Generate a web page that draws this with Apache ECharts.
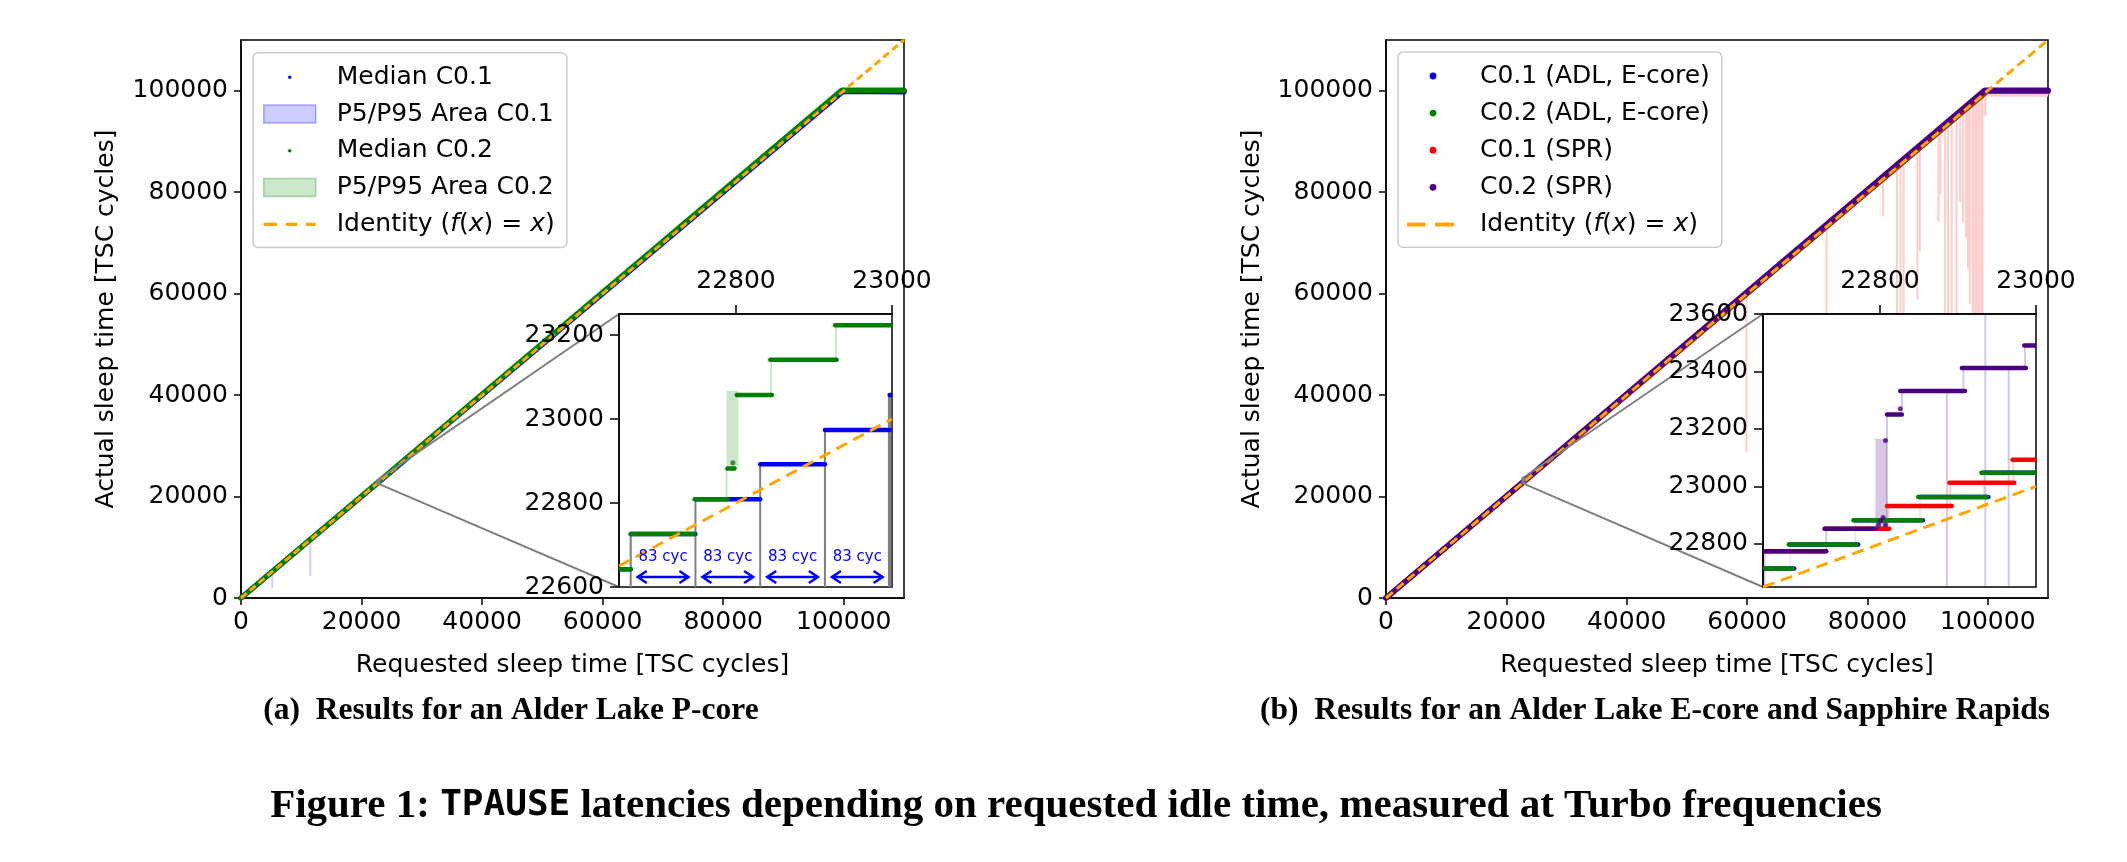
<!DOCTYPE html>
<html lang="en">
<head>
<meta charset="utf-8">
<title>Figure 1: TPAUSE latencies</title>
<script src="https://cdn.jsdelivr.net/npm/echarts@6.0.0/dist/echarts.min.js"></script>
<style>
  html, body { margin: 0; padding: 0; background: #fff; }
  #chart { width: 2127px; height: 862px; }
</style>
</head>
<body>
<div id="chart"></div>
<script>
// values, all in TSC cycles

// axis ticks
const mainTicks = [0, 20000, 40000, 60000, 80000, 100000];
const insetTicksX = [22800, 23000];
const insetATicksY = [22600, 22800, 23000, 23200];
const insetBTicksY = [22800, 23000, 23200, 23400, 23600];

// identity f(x) = x
const identityMain = [[0, 0], [110000, 110000]];
const identityInset = [[22650, 22650], [23000, 23000]];

// (a) Alder Lake P-core, full range medians
const adlPMedianC01 = [[0, 0], [99900, 99900], [110000, 99800]];
const adlPMedianC02 = [[0, 0], [99700, 100100], [110000, 100100]];
// P5/P95 outliers: [xFrom, xTo, low, high]
const adlPAreaC01 = [[5200, 5200, 2000, 4800], [11500, 11500, 4300, 10700]];

// (a) inset, median steps: [xFrom, xTo, y]
const insetAC01Steps = [
  [22650, 22665, 22642], [22665, 22748, 22726], [22748, 22831, 22809],
  [22831, 22914, 22892], [22914, 22997, 22974], [22997, 23000, 23057]
];
const insetAC02Steps = [
  [22650, 22665, 22642], [22665, 22747, 22726], [22747, 22789, 22809],
  [22789, 22798, 22882], [22801, 22846, 23057], [22844, 22929, 23141],
  [22927, 23000, 23223]
];
const insetAC02Points = [[22796, 22896]];
const insetAAreaC01 = [[22998, 22998, 22974, 23057]];
const insetAAreaC02 = [
  [22665, 22665, 22642, 22726], [22788, 22803, 22882, 23067],
  [22788, 22788, 22809, 22882], [22845, 22845, 23057, 23141],
  [22928, 22928, 23141, 23223]
];
// grey guides [x, top] every 83 cycles
const cycleGuides = [[22665, 22726], [22748, 22809], [22831, 22892], [22914, 22974], [22997, 23057]];
const cycleLabel = '83 cyc';
const cycleTextY = 22672;
const cycleArrowY = 22624;

// (b) Alder Lake E-core and Sapphire Rapids, full range medians
const adlEMedianC01 = [[0, 0], [99900, 99950], [110000, 99950]];
const adlEMedianC02 = [[0, 0], [99900, 99950], [110000, 99950]];
const sprMedianC01 = [[0, 0], [99800, 100000], [110000, 99900]];
const sprMedianC02 = [[0, 0], [99500, 100100], [110000, 100100]];
// SPR C0.1 P5/P95 dips below the median: [xFrom, xTo, low, high]
const sprAreaC01 = [
  [59900, 59900, 28600, 59800], [73200, 73200, 50000, 73100],
  [82600, 82600, 75200, 82500], [84900, 84900, 50000, 84800],
  [85500, 85500, 52000, 85400], [86000, 86000, 50000, 85900],
  [88300, 88300, 58700, 88200], [88700, 88700, 68300, 88600],
  [91800, 91800, 74200, 91700], [92100, 92100, 79500, 92000],
  [92900, 92900, 50000, 92800], [93400, 93400, 50000, 93300],
  [94000, 94000, 52000, 93900], [94800, 94800, 50000, 94700],
  [95400, 95600, 78000, 95300], [95900, 96100, 74000, 95800],
  [96400, 96600, 71000, 96300], [96700, 97000, 65000, 96600],
  [97000, 97300, 58000, 96900], [97300, 97800, 50000, 97200],
  [97800, 98300, 50000, 97700], [98300, 98800, 50000, 98200],
  [98800, 99300, 50000, 98700], [99400, 99800, 95000, 99300],
  [100000, 110000, 98800, 99900]
];

// (b) inset, median steps: [xFrom, xTo, y]
const insetBC01AdlSteps = [
  [22650, 22690, 22714], [22684, 22772, 22798], [22767, 22855, 22882],
  [22851, 22939, 22963], [22932, 23000, 23048]
];
const insetBC02AdlSteps = [
  [22650, 22688, 22714], [22683, 22770, 22798], [22766, 22853, 22882],
  [22849, 22937, 22963], [22930, 23000, 23048]
];
const insetBC01SprSteps = [
  [22650, 22731, 22774], [22729, 22812, 22853], [22809, 22892, 22932],
  [22889, 22972, 23013], [22970, 23000, 23093]
];
const insetBC02SprSteps = [
  [22650, 22731, 22774], [22729, 22795, 22853], [22809, 22828, 23250],
  [22826, 22909, 23332], [22905, 22987, 23412], [22985, 23000, 23490]
];
const insetBC02SprPoints = [[22798, 22866], [22801, 22880], [22804, 22892], [22807, 22866], [22807, 23160], [22826, 23270]];
const insetBAreaC02Adl = [
  [22685, 22685, 22714, 22798], [22768, 22768, 22798, 22882],
  [22851, 22851, 22882, 22963], [22933, 22933, 22963, 23048]
];
const insetBAreaC01Spr = [
  [22811, 22811, 22853, 22932], [22890, 22890, 22932, 23013], [22971, 22971, 23013, 23093]
];
const insetBAreaC02Spr = [
  [22794, 22809, 22853, 23166], [22652, 22652, 22650, 22774], [22731, 22731, 22774, 22853],
  [22809, 22809, 22853, 23250], [22828, 22828, 23250, 23332], [22886, 22886, 22650, 23332],
  [22907, 22907, 23332, 23412], [22935, 22935, 22650, 23600], [22965, 22965, 22650, 23412],
  [22986, 22986, 23412, 23490]
];

const FONT = 'DejaVu Sans';
const FS = 25;
const BLUE = '#0000ff', GREEN = '#008000', RED = '#ff0000', INDIGO = '#4b0082', ORANGE = '#ffa500', GREY = '#808080';
const IDENTITY = 'Identity (f(x) = x)';

const chart = echarts.init(document.getElementById('chart'));

// horizontal run of median dots
function stepItem(params, api) {
  const a = api.coord([api.value(0), api.value(2)]);
  const b = api.coord([api.value(1), api.value(2)]);
  return {
    type: 'line',
    shape: { x1: a[0], y1: a[1], x2: b[0], y2: b[1] },
    style: { stroke: api.visual('color'), lineWidth: 4.5, lineCap: 'round' }
  };
}

// P5/P95 band between low and high
function bandItem(params, api) {
  const a = api.coord([api.value(0), api.value(3)]);
  const b = api.coord([api.value(1), api.value(2)]);
  const w = b[0] - a[0];
  return {
    type: 'rect',
    shape: { x: w < 2 ? a[0] - 1 : a[0], y: a[1], width: Math.max(w, 2), height: b[1] - a[1] },
    style: { fill: api.visual('color') }
  };
}

function guideItem(params, api) {
  const a = api.coord([api.value(0), 22600]);
  const b = api.coord([api.value(0), api.value(1)]);
  const last = params.dataIndex === cycleGuides.length - 1;
  return {
    type: 'line',
    shape: { x1: a[0], y1: a[1], x2: b[0], y2: b[1] },
    style: { stroke: GREY, lineWidth: last ? 3.5 : 2 }
  };
}

// double arrow with label between two guides
function arrowItem(params, api) {
  const x0 = api.value(0), x1 = api.value(1);
  const a = api.coord([x0 + 9, cycleArrowY]);
  const b = api.coord([x1 - 9, cycleArrowY]);
  const t = api.coord([(x0 + x1) / 2, cycleTextY]);
  const h = 9, s = 6;
  const st = { stroke: BLUE, lineWidth: 2.5, fill: 'none' };
  return {
    type: 'group',
    children: [
      { type: 'line', shape: { x1: a[0], y1: a[1], x2: b[0], y2: b[1] }, style: st },
      { type: 'polyline', shape: { points: [[a[0] + h, a[1] - s], [a[0], a[1]], [a[0] + h, a[1] + s]] }, style: st },
      { type: 'polyline', shape: { points: [[b[0] - h, b[1] - s], [b[0], b[1]], [b[0] - h, b[1] + s]] }, style: st },
      { type: 'text', x: t[0], y: t[1], style: { text: cycleLabel, fill: BLUE, font: '15px "DejaVu Sans"', align: 'center', verticalAlign: 'middle' } }
    ]
  };
}

const cycleArrows = cycleGuides.slice(1).map((g, i) => [cycleGuides[i][0], g[0]]);

// legend handles; the leading moves pin the 52x18 handle box
function dotIcon(r) {
  return 'path://M0 0M52 18M' + (26 - r) + ' 9a' + r + ' ' + r + ' 0 1 0 ' + (2 * r) + ' 0a' + r + ' ' + r + ' 0 1 0 ' + (-2 * r) + ' 0Z';
}
function dashIcon(dashes, t) {
  return 'path://M0 0M52 18' + dashes.map(d =>
    'M' + d[0] + ' ' + (9 - t / 2) + 'h' + (d[1] - d[0]) + 'v' + t + 'h' + (d[0] - d[1]) + 'Z').join('');
}

function legendLabel(name) {
  if (name === IDENTITY) {
    return '{t|Identity (}{i|f}{t|(}{i|x}{t|) = }{i|x}{t|)}';
  }
  return '{t|' + name + '}';
}

const legendText = {
  fontFamily: FONT, fontSize: FS, color: '#000', padding: [0, 0, 0, 16],
  rich: {
    t: { fontFamily: FONT, fontSize: FS, color: '#000' },
    i: { fontFamily: FONT, fontSize: FS, color: '#000', fontStyle: 'italic' }
  }
};

function legendBox(left, top, padding, gap, data) {
  return {
    orient: 'vertical', left: left, top: top, padding: padding,
    itemWidth: 52, itemHeight: 18, itemGap: gap,
    backgroundColor: 'rgba(255,255,255,0.8)', borderColor: '#cccccc', borderWidth: 1.5, borderRadius: 5,
    selectedMode: false, formatter: legendLabel, textStyle: legendText, data: data
  };
}

function mainX(gridIndex) {
  return {
    gridIndex: gridIndex, type: 'value', min: 0, max: 110000,
    name: 'Requested sleep time [TSC cycles]', nameLocation: 'middle', nameGap: 55,
    nameTextStyle: { fontFamily: FONT, fontSize: FS, color: '#000' },
    axisLine: { onZero: false, lineStyle: { color: '#000', width: 1.5 } },
    axisTick: { length: 7, customValues: mainTicks, lineStyle: { color: '#000', width: 1.5 } },
    axisLabel: { customValues: mainTicks, formatter: v => String(v), fontFamily: FONT, fontSize: FS, color: '#000', margin: 12 },
    splitLine: { show: false }
  };
}

function mainY(gridIndex, gap) {
  return {
    gridIndex: gridIndex, type: 'value', min: 0, max: 110000,
    name: 'Actual sleep time [TSC cycles]', nameLocation: 'middle', nameGap: gap,
    nameTextStyle: { fontFamily: FONT, fontSize: FS, color: '#000' },
    axisLine: { onZero: false, lineStyle: { color: '#000', width: 1.5 } },
    axisTick: { length: 7, customValues: mainTicks, lineStyle: { color: '#000', width: 1.5 } },
    axisLabel: { customValues: mainTicks, formatter: v => String(v), fontFamily: FONT, fontSize: FS, color: '#000', margin: 13 },
    splitLine: { show: false }
  };
}

function insetX(gridIndex) {
  return {
    gridIndex: gridIndex, type: 'value', position: 'top', min: 22650, max: 23000, z: 6,
    axisLine: { onZero: false, lineStyle: { color: '#000', width: 1.5 } },
    axisTick: { length: 9, customValues: insetTicksX, lineStyle: { color: '#000', width: 1.5 } },
    axisLabel: { customValues: insetTicksX, formatter: v => String(v), fontFamily: FONT, fontSize: FS, color: '#000', margin: 20 },
    splitLine: { show: false }
  };
}

function insetY(gridIndex, min, max, ticks) {
  return {
    gridIndex: gridIndex, type: 'value', min: min, max: max, z: 6,
    axisLine: { onZero: false, lineStyle: { color: '#000', width: 1.5 } },
    axisTick: { length: 9, customValues: ticks, lineStyle: { color: '#000', width: 1.5 } },
    axisLabel: { customValues: ticks, formatter: v => String(v), fontFamily: FONT, fontSize: FS, color: '#000', margin: 15 },
    splitLine: { show: false }
  };
}

function line(name, axis, data, color, width, z, dash) {
  return {
    name: name, type: 'line', xAxisIndex: axis, yAxisIndex: axis, data: data,
    symbol: 'none', silent: true, z: z,
    itemStyle: { color: color },
    lineStyle: { color: color, width: width, type: dash || 'solid', cap: dash ? 'butt' : 'round' }
  };
}

function custom(name, axis, data, color, render, z, encode) {
  return {
    name: name, type: 'custom', xAxisIndex: axis, yAxisIndex: axis, data: data,
    renderItem: render, itemStyle: { color: color }, silent: true, z: z, clip: true,
    encode: encode
  };
}

const bandEnc = { x: [0, 1], y: [2, 3] };
const stepEnc = { x: [0, 1], y: 2 };

const option = {
  animation: false,
  backgroundColor: '#fff',
  grid: [
    { left: 241, top: 40, width: 663, height: 558, show: true, borderColor: '#000', borderWidth: 1.5, backgroundColor: 'transparent' },
    { left: 1386, top: 40, width: 662, height: 558, show: true, borderColor: '#000', borderWidth: 1.5, backgroundColor: 'transparent' },
    { left: 619, top: 314, width: 273, height: 273, show: true, borderColor: '#000', borderWidth: 1.5, backgroundColor: '#fff', z: 5 },
    { left: 1763, top: 314, width: 273, height: 273, show: true, borderColor: '#000', borderWidth: 1.5, backgroundColor: '#fff', z: 5 }
  ],
  xAxis: [mainX(0), mainX(1), insetX(2), insetX(3)],
  yAxis: [mainY(0, 122), mainY(1, 121), insetY(2, 22600, 23250, insetATicksY), insetY(3, 22650, 23600, insetBTicksY)],
  legend: [
    legendBox(253, 52.7, [12, 12, 10.5, 10], 11.8, [
      { name: 'Median C0.1', icon: dotIcon(1.7), itemStyle: { color: BLUE, borderWidth: 0 } },
      { name: 'P5/P95 Area C0.1', icon: 'rect', itemStyle: { color: 'rgba(0,0,255,0.2)', borderColor: 'rgba(0,0,255,0.3)', borderWidth: 1.5 } },
      { name: 'Median C0.2', icon: dotIcon(1.7), itemStyle: { color: GREEN, borderWidth: 0 } },
      { name: 'P5/P95 Area C0.2', icon: 'rect', itemStyle: { color: 'rgba(0,128,0,0.2)', borderColor: 'rgba(0,128,0,0.3)', borderWidth: 1.5 } },
      { name: IDENTITY, icon: dashIcon([[0, 13.4], [22, 33.7], [42, 52]], 3.3), itemStyle: { color: ORANGE, borderWidth: 0 } }
    ]),
    legendBox(1398, 52, [11.5, 12, 10.3, 9], 12.1, [
      { name: 'C0.1 (ADL, E-core)', icon: dotIcon(3.4), itemStyle: { color: BLUE, borderWidth: 0 } },
      { name: 'C0.2 (ADL, E-core)', icon: dotIcon(3.4), itemStyle: { color: GREEN, borderWidth: 0 } },
      { name: 'C0.1 (SPR)', icon: dotIcon(3.4), itemStyle: { color: RED, borderWidth: 0 } },
      { name: 'C0.2 (SPR)', icon: dotIcon(3.4), itemStyle: { color: INDIGO, borderWidth: 0 } },
      { name: IDENTITY, icon: dashIcon([[0, 18.5], [28, 47]], 4), itemStyle: { color: ORANGE, borderWidth: 0 } }
    ])
  ],
  series: [
    // (a) full range
    custom('P5/P95 Area C0.1', 0, adlPAreaC01, 'rgba(0,0,255,0.2)', bandItem, 1, bandEnc),
    line('Median C0.1', 0, adlPMedianC01, BLUE, 5.5, 2),
    line('Median C0.2', 0, adlPMedianC02, GREEN, 5.5, 2),
    line(IDENTITY, 0, identityMain, ORANGE, 3, 3, [7.5, 4]),

    // (b) full range
    custom('C0.1 (SPR) P5/P95', 1, sprAreaC01, '#ffcccc', bandItem, 1, bandEnc),
    line('C0.1 (ADL, E-core)', 1, adlEMedianC01, BLUE, 5.5, 2),
    line('C0.2 (ADL, E-core)', 1, adlEMedianC02, GREEN, 5.5, 2),
    line('C0.1 (SPR)', 1, sprMedianC01, RED, 5.5, 2),
    line('C0.2 (SPR)', 1, sprMedianC02, INDIGO, 5.5, 2),
    line(IDENTITY, 1, identityMain, ORANGE, 3, 3, [9, 5]),

    // (a) inset
    custom('P5/P95 Area C0.1', 2, insetAAreaC01, 'rgba(0,0,255,0.2)', bandItem, 7, bandEnc),
    custom('P5/P95 Area C0.2', 2, insetAAreaC02, 'rgba(0,128,0,0.2)', bandItem, 7, bandEnc),
    custom('cycle guides', 2, cycleGuides, GREY, guideItem, 8, { x: 0, y: 1 }),
    custom('Median C0.1', 2, insetAC01Steps, BLUE, stepItem, 9, stepEnc),
    custom('Median C0.2', 2, insetAC02Steps, GREEN, stepItem, 10, stepEnc),
    {
      name: 'Median C0.2', type: 'scatter', xAxisIndex: 2, yAxisIndex: 2, data: insetAC02Points,
      symbolSize: 5, itemStyle: { color: GREEN }, silent: true, z: 10
    },
    line(IDENTITY, 2, identityInset, ORANGE, 3, 11, [12, 7]),
    custom('83 cyc', 2, cycleArrows, BLUE, arrowItem, 12, { x: [0, 1] }),

    // (b) inset
    custom('C0.2 (ADL, E-core) P5/P95', 3, insetBAreaC02Adl, 'rgba(0,128,0,0.12)', bandItem, 7, bandEnc),
    custom('C0.1 (SPR) P5/P95', 3, insetBAreaC01Spr, 'rgba(255,0,0,0.2)', bandItem, 7, bandEnc),
    custom('C0.2 (SPR) P5/P95', 3, insetBAreaC02Spr, 'rgba(75,0,130,0.22)', bandItem, 7, bandEnc),
    custom('C0.1 (ADL, E-core)', 3, insetBC01AdlSteps, BLUE, stepItem, 8, stepEnc),
    custom('C0.2 (ADL, E-core)', 3, insetBC02AdlSteps, GREEN, stepItem, 9, stepEnc),
    custom('C0.1 (SPR)', 3, insetBC01SprSteps, RED, stepItem, 10, stepEnc),
    custom('C0.2 (SPR)', 3, insetBC02SprSteps, INDIGO, stepItem, 11, stepEnc),
    {
      name: 'C0.2 (SPR)', type: 'scatter', xAxisIndex: 3, yAxisIndex: 3, data: insetBC02SprPoints,
      symbolSize: 5, itemStyle: { color: INDIGO }, silent: true, z: 11
    },
    line(IDENTITY, 3, identityInset, ORANGE, 3, 12, [12, 7])
  ],
  graphic: [
    {
      id: 'capA', type: 'text', x: 511, y: 711, z: 10,
      style: { text: '(a)  Results for an Alder Lake P-core', font: 'bold 31.5px "Liberation Serif"', fill: '#000', align: 'center', verticalAlign: 'middle' }
    },
    {
      id: 'capB', type: 'text', x: 1655, y: 711, z: 10,
      style: { text: '(b)  Results for an Alder Lake E-core and Sapphire Rapids', font: 'bold 31.5px "Liberation Serif"', fill: '#000', align: 'center', verticalAlign: 'middle' }
    },
    {
      id: 'figTitle', type: 'text', x: 1076, y: 806, z: 10,
      style: {
        text: '{s|Figure 1: }{m|TPAUSE}{s| latencies depending on requested idle time, measured at Turbo frequencies}',
        align: 'center', verticalAlign: 'middle',
        rich: {
          s: { font: 'bold 41px "Liberation Serif"', fill: '#000' },
          m: { font: 'bold 36px "DejaVu Sans Mono"', fill: '#000' }
        }
      }
    }
  ]
};

chart.setOption(option);

// zoom marks and connector lines from the main axes to each inset
const insets = [
  { main: 0, inset: 2, x0: 22650, x1: 23000, y0: 22600, y1: 23250 },
  { main: 1, inset: 3, x0: 22650, x1: 23000, y0: 22650, y1: 23600 }
];
const extra = [];
insets.forEach((s, i) => {
  const lo = chart.convertToPixel({ gridIndex: s.main }, [s.x0, s.y0]);
  const hi = chart.convertToPixel({ gridIndex: s.main }, [s.x1, s.y1]);
  const tl = chart.convertToPixel({ gridIndex: s.inset }, [s.x0, s.y1]);
  const bl = chart.convertToPixel({ gridIndex: s.inset }, [s.x0, s.y0]);
  const st = { stroke: GREY, lineWidth: 2, fill: 'none' };
  extra.push({ id: 'mark' + i, type: 'rect', z: 4, shape: { x: lo[0], y: hi[1], width: hi[0] - lo[0], height: lo[1] - hi[1] }, style: st });
  extra.push({ id: 'connTop' + i, type: 'line', z: 4, shape: { x1: lo[0], y1: hi[1], x2: tl[0], y2: tl[1] }, style: st });
  extra.push({ id: 'connBot' + i, type: 'line', z: 4, shape: { x1: lo[0], y1: lo[1], x2: bl[0], y2: bl[1] }, style: st });
});
chart.setOption({ graphic: extra });
</script>
</body>
</html>
